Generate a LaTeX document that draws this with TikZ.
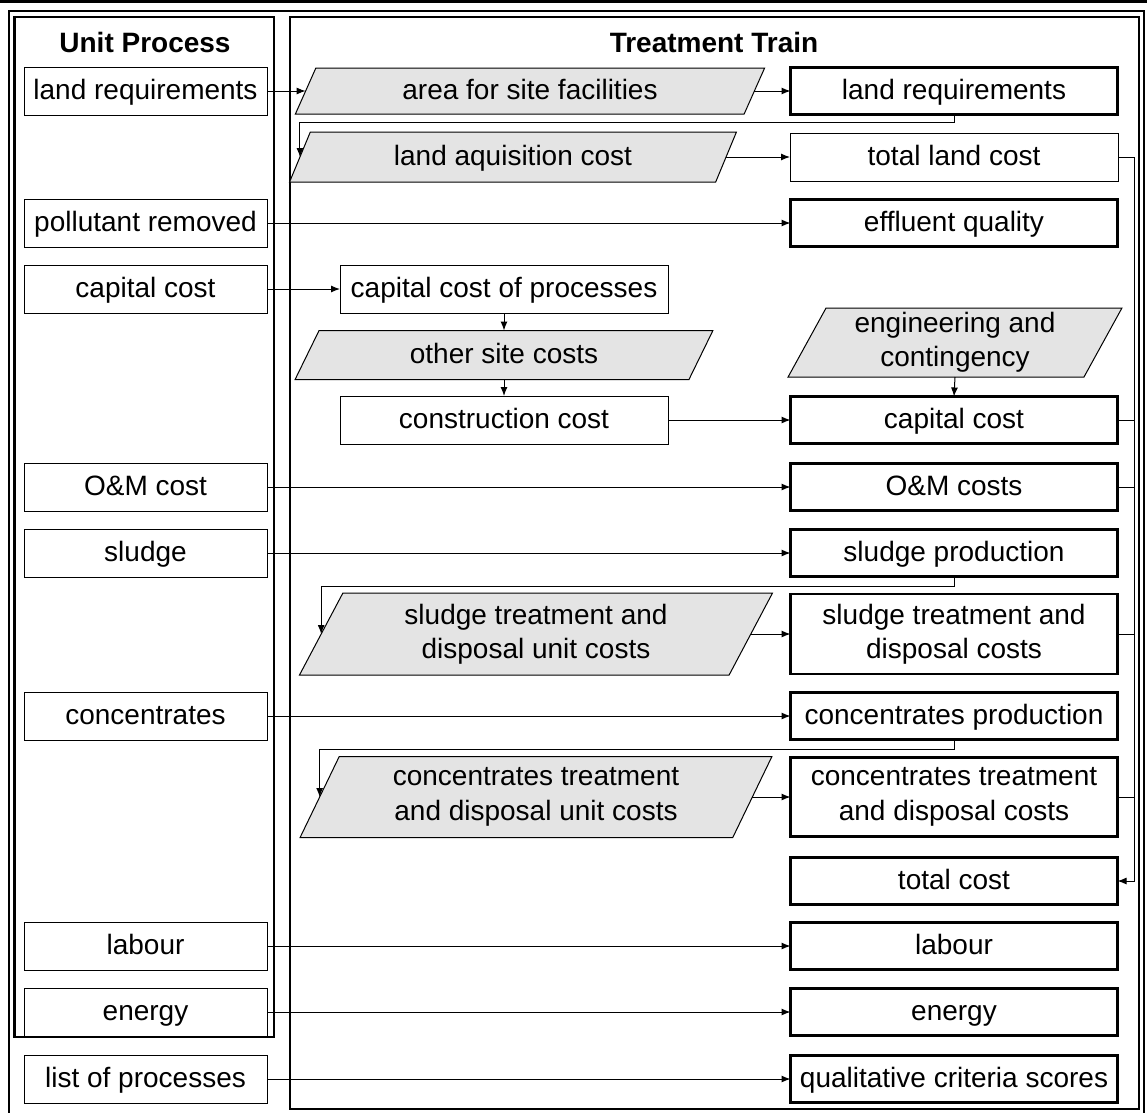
\documentclass[tikz,border=0pt]{standalone}
\usepackage{fontspec}
\setmainfont{Liberation Sans}
\usetikzlibrary{shapes.geometric,arrows.meta,calc}
\definecolor{boxgray}{RGB}{228,228,228}

\tikzset{
  every node/.style={font=\fontsize{28}{34.5}\selectfont, inner sep=0pt, outer sep=0pt},
  oneline/.style={text height=21pt, text depth=4pt},
  thinbox/.style={draw, line width=1pt, minimum height=48pt, align=center},
  lubox/.style={thinbox, oneline, minimum width=243pt},
  midbox/.style={thinbox, oneline, minimum width=328pt},
  ttthin/.style={thinbox, oneline, minimum width=328pt},
  ttbox/.style={draw, line width=2.5pt, minimum width=327pt, minimum height=47pt, align=center},
  datain/.style={trapezium, trapezium left angle=64, trapezium right angle=116,
    trapezium stretches=true, draw, line width=1pt, fill=boxgray, align=center},
  header/.style={font=\fontsize{28}{34.5}\selectfont\bfseries, oneline},
  arr/.style={-{Latex[length=9pt,width=7pt]}, line width=1pt},
  link/.style={line width=1pt},
  frame/.style={line width=2.5pt},
}

\begin{document}
\begin{tikzpicture}[x=1pt,y=-1pt]
\useasboundingbox (0,0) rectangle (1147,1112);

% rules and frames
\draw[frame] (0,1.5) -- (1147,1.5);
\draw[line width=2pt] (9,1113) -- (9,11) -- (1144,11) -- (1144,1113);
\draw[frame] (14.5,17) rectangle (274,1037);
\draw[frame] (290,17) rectangle (1139,1109);

% column headings
\node[header] (hup) at (145,44) {Unit Process};
\node[header] (htt) at (714,44) {Treatment Train};

% unit process column
\node[lubox] (lu1) at (145.5,91)   {land requirements};
\node[lubox] (lu2) at (145.5,223)  {pollutant removed};
\node[lubox] (lu3) at (145.5,289)  {capital cost};
\node[lubox] (lu4) at (145.5,487)  {O\&M cost};
\node[lubox] (lu5) at (145.5,553)  {sludge};
\node[lubox] (lu6) at (145.5,716)  {concentrates};
\node[lubox] (lu7) at (145.5,946)  {labour};
\node[lubox] (lu8) at (145.5,1012) {energy};
\node[lubox] (lu9) at (145.5,1079) {list of processes};

% inputs and intermediate steps
\node[datain, oneline, minimum width=470pt, minimum height=46pt] (asf) at (530,91) {area for site facilities};
\node[datain, oneline, minimum width=448pt, minimum height=50pt] (lac) at (513,157) {land aquisition cost};
\node[midbox] (mid1) at (504,289) {capital cost of processes};
\node[datain, oneline, minimum width=418pt, minimum height=49pt] (osc) at (504,355) {other site costs};
\node[midbox] (mid2) at (504,420) {construction cost};
\node[datain, minimum width=334pt, minimum height=69pt] (ec) at (955,342.5) {engineering and\\contingency};
\node[datain, minimum width=474pt, minimum height=82pt] (sud) at (536,634) {sludge treatment and\\disposal unit costs};
\node[datain, minimum width=474pt, minimum height=81pt] (cud) at (536,797) {concentrates treatment\\and disposal unit costs};

% treatment train column
\node[ttbox, oneline] (tt1)  at (954,91)   {land requirements};
\node[ttthin]         (tt2)  at (954,157)  {total land cost};
\node[ttbox, oneline] (tt3)  at (954,223)  {effluent quality};
\node[ttbox, oneline] (tt4)  at (954,420)  {capital cost};
\node[ttbox, oneline] (tt5)  at (954,487)  {O\&M costs};
\node[ttbox, oneline] (tt6)  at (954,553)  {sludge production};
\node[ttbox, minimum height=80pt] (tt7) at (954,634) {sludge treatment and\\disposal costs};
\node[ttbox, oneline] (tt8)  at (954,716)  {concentrates production};
\node[ttbox, minimum height=79pt] (tt9) at (954,797) {concentrates treatment\\and disposal costs};
\node[ttbox, oneline] (tt10) at (954,881)  {total cost};
\node[ttbox, oneline] (tt11) at (954,946)  {labour};
\node[ttbox, oneline] (tt12) at (954,1012) {energy};
\node[ttbox, oneline] (tt13) at (954,1079) {qualitative criteria scores};

% land
\draw[arr] (lu1.east) -- (asf.left side);
\draw[arr] (asf.right side) -- (tt1.west);
\draw[arr] (tt1.south) -- ++(0,8) -| (lac.left side);
\draw[arr] (lac.right side) -- (tt2.west);

% effluent
\draw[arr] (lu2.east) -- (tt3.west);

% capital
\draw[arr] (lu3.east) -- (mid1.west);
\draw[arr] (mid1.south) -- (mid1.south |- osc.top side);
\draw[arr] (osc.center |- osc.bottom side) -- (mid2.north);
\draw[arr] (mid2.east) -- (tt4.west);
\draw[arr] (ec.center |- ec.bottom side) -- (tt4.north);

% O&M, sludge, concentrates
\draw[arr] (lu4.east) -- (tt5.west);
\draw[arr] (lu5.east) -- (tt6.west);
\draw[arr] (tt6.south) -- ++(0,10) -| (sud.left side);
\draw[arr] (sud.right side) -- (tt7.west);
\draw[arr] (lu6.east) -- (tt8.west);
\draw[arr] (tt8.south) -- ++(0,10) -| (cud.left side);
\draw[arr] (cud.right side) -- (tt9.west);

% cost collector on the right
\coordinate (busbot) at (1134,881);
\draw[arr] (tt2.east) -| (busbot) -- (tt10.east);
\draw[link] (tt4.east) -- (tt4.east -| busbot);
\draw[link] (tt5.east) -- (tt5.east -| busbot);
\draw[link] (tt7.east) -- (tt7.east -| busbot);
\draw[link] (tt9.east) -- (tt9.east -| busbot);

% remaining criteria
\draw[arr] (lu7.east) -- (tt11.west);
\draw[arr] (lu8.east) -- (tt12.west);
\draw[arr] (lu9.east) -- (tt13.west);
\end{tikzpicture}
\end{document}
